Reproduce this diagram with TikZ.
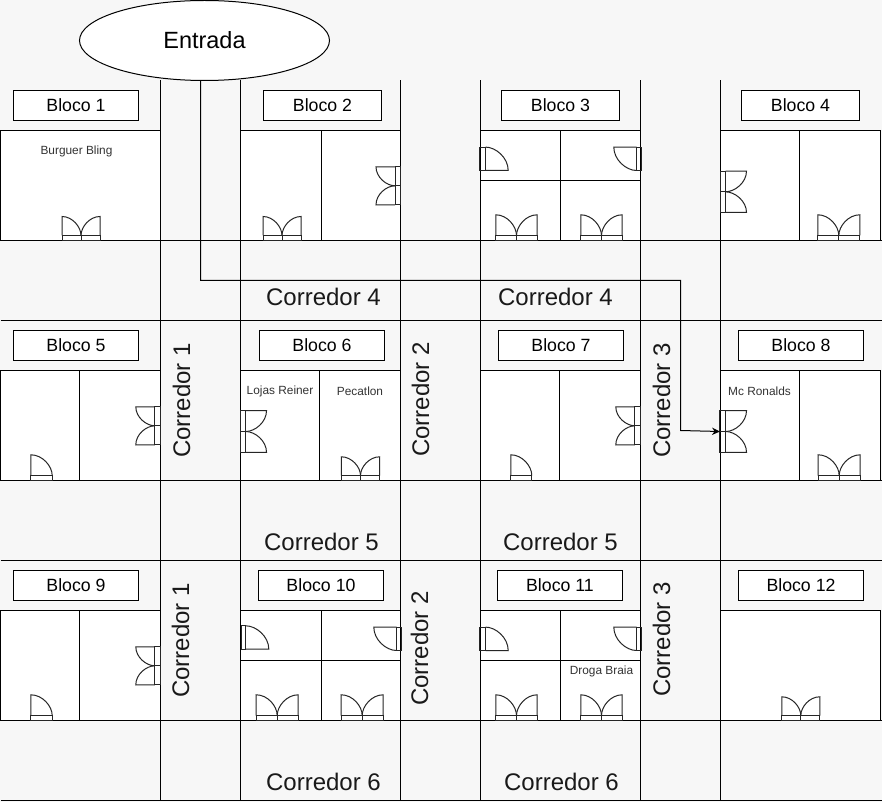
\documentclass[tikz,border=0pt]{standalone}
\usepackage{fontspec}
\setmainfont{Liberation Sans}
\usetikzlibrary{shapes.geometric,arrows.meta}
\definecolor{bgc}{HTML}{F7F7F7}
\definecolor{ink}{HTML}{000000}
\definecolor{smallc}{HTML}{333333}
\tikzset{
  wall/.style={draw=ink,line width=0.75pt},
  room/.style={draw=ink,fill=white,line width=0.75pt},
  doorline/.style={draw=ink!85,line width=0.75pt},
  blockbox/.style={draw=ink,fill=white,line width=0.75pt,minimum height=22.5pt,inner sep=0pt,font=\fontsize{13.3}{15}\selectfont},
  corr/.style={font=\fontsize{18}{20}\selectfont,inner sep=0pt,text=ink!90},
  shoplabel/.style={font=\fontsize{8.9}{10}\selectfont,inner sep=0pt,text=smallc},
  route/.style={draw=ink,line width=0.75pt}
}
% double door: #1 x, #2 y (middle of the wall edge), #3 rotation, #4 half width, #5 depth, #6 sill
\newcommand{\ddoor}[6]{\begin{scope}[shift={(#1,#2)},rotate=#3]
  \draw[doorline] (-#4,0) rectangle (#4,-#6);
  \draw[doorline] (0,0) -- (0,-#6);
  \draw[doorline] (-#4,-#6) -- (-#4,-#5) .. controls ({-#4*0.45},-#5) and (0,{-#6-0.45*(#5-#6)}) .. (0,-#6);
  \draw[doorline] (#4,-#6) -- (#4,-#5) .. controls ({#4*0.45},-#5) and (0,{-#6-0.45*(#5-#6)}) .. (0,-#6);
\end{scope}}
% single door: same arguments, #7 = 1 leaf on local left, -1 leaf on local right
\newcommand{\sdoor}[7]{\begin{scope}[shift={(#1,#2)},rotate=#3,xscale=#7]
  \draw[doorline] (-#4,0) rectangle (#4,-#6);
  \draw[doorline] (-#4,-#6) -- (-#4,-#5) .. controls ({-#4+1.1*#4},-#5) and (#4,{-#6-0.45*(#5-#6)}) .. (#4,-#6);
\end{scope}}
\begin{document}
\begin{tikzpicture}[x=0.75pt,y=-0.75pt]
\useasboundingbox (-0.5,-0.5) rectangle (881.5,801.5);
\fill[bgc] (-0.5,-0.5) rectangle (881.5,801.5);
% corridor lines
\foreach \yy in {240,320,480,560,720,800} \draw[wall] (0,\yy) -- (881,\yy);
\foreach \xx in {160,240,400,480,640,720} \draw[wall] (\xx,80) -- (\xx,800);
% rooms
\foreach \xa/\xb in {0/160,240/400,480/640,720/880} {
  \draw[room] (\xa,130) rectangle (\xb,240);
  \draw[room] (\xa,370) rectangle (\xb,480);
  \draw[room] (\xa,610) rectangle (\xb,720);
}
% dividers
\draw[wall] (321,130) -- (321,240);
\draw[wall] (560,130) -- (560,240);
\draw[wall] (480,180) -- (640,180);
\draw[wall] (799,130) -- (799,240);
\draw[wall] (79,370) -- (79,480);
\draw[wall] (319,370) -- (319,480);
\draw[wall] (559,370) -- (559,480);
\draw[wall] (799,370) -- (799,480);
\draw[wall] (79,610) -- (79,720);
\draw[wall] (321,610) -- (321,720);
\draw[wall] (240,660) -- (400,660);
\draw[wall] (560,610) -- (560,720);
\draw[wall] (480,660) -- (640,660);
% doors, row 1
\ddoor{80.5}{240}{0}{19}{24}{5}
\ddoor{281.5}{240}{0}{19}{24}{5}
\ddoor{399.5}{185.3}{90}{19}{24}{5}
\sdoor{479.3}{158.3}{-90}{11.7}{28.4}{5.7}{-1}
\sdoor{641.3}{158.3}{90}{11.7}{28}{5.3}{-1}
\ddoor{516}{240}{0}{20.7}{25.7}{5}
\ddoor{601}{240}{0}{20.7}{25.7}{5}
\ddoor{719.5}{191.3}{-90}{20.7}{26.5}{5.5}
\ddoor{838.3}{240}{0}{21}{25.7}{5}
% doors, row 2
\sdoor{41}{480}{0}{10.7}{25.7}{5}{1}
\ddoor{159.7}{425.3}{90}{19}{24.4}{5.4}
\ddoor{240}{431}{-90}{20.8}{26}{5.3}
\ddoor{360}{480}{0}{19.2}{23.7}{5}
\sdoor{520.8}{480}{0}{10.5}{25.7}{5}{1}
\ddoor{639.7}{425.3}{90}{19}{24.4}{5.4}
\ddoor{719.3}{431}{-90}{20.8}{26.7}{6}
\ddoor{838.7}{480}{0}{21}{25.7}{5}
% doors, row 3
\sdoor{41}{720}{0}{10.7}{25.7}{5}{1}
\ddoor{159.7}{665.3}{90}{19}{24.4}{5.4}
\sdoor{240.7}{637}{-90}{11.7}{27.6}{4.6}{-1}
\sdoor{401.3}{638.3}{90}{11.7}{28}{5.3}{-1}
\ddoor{276.7}{720}{0}{21}{25.7}{5}
\ddoor{361.7}{720}{0}{21}{25.7}{5}
\sdoor{479.3}{638.3}{-90}{11.7}{28.4}{5.7}{-1}
\sdoor{641.3}{638.3}{90}{11.7}{28}{5.3}{-1}
\ddoor{516}{720}{0}{20.7}{25.7}{5}
\ddoor{601}{720}{0}{20.7}{25.7}{5}
\ddoor{800.3}{720}{0}{19}{23.7}{5}
% block labels
\node[blockbox,minimum width=93.75pt] (b1) at (75.5,105) {Bloco 1};
\node[blockbox,minimum width=88.5pt] (b2) at (322,105) {Bloco 2};
\node[blockbox,minimum width=88.5pt] (b3) at (560,105) {Bloco 3};
\node[blockbox,minimum width=88.5pt] (b4) at (800,105) {Bloco 4};
\node[blockbox,minimum width=93.75pt] (b5) at (75.5,345) {Bloco 5};
\node[blockbox,minimum width=93.75pt] (b6) at (321.5,345) {Bloco 6};
\node[blockbox,minimum width=93.75pt] (b7) at (560.5,345) {Bloco 7};
\node[blockbox,minimum width=93.75pt] (b8) at (800.5,345) {Bloco 8};
\node[blockbox,minimum width=93.75pt] (b9) at (75.5,585) {Bloco 9};
\node[blockbox,minimum width=93.75pt] (b10) at (320.5,585) {Bloco 10};
\node[blockbox,minimum width=93.75pt] (b11) at (559.5,585) {Bloco 11};
\node[blockbox,minimum width=93.75pt] (b12) at (800.5,585) {Bloco 12};
% shop labels
\node[shoplabel] (s1) at (76,151) {Burguer Bling};
\node[shoplabel] (s2) at (279.5,391) {Lojas Reiner};
\node[shoplabel] (s3) at (359.5,391) {Pecatlon};
\node[shoplabel] (s4) at (759,391) {Mc Ronalds};
\node[shoplabel] (s5) at (601,671) {Droga Braia};
% corridor labels
\node[corr] (c41) at (323,296) {Corredor 4};
\node[corr] (c42) at (555,296) {Corredor 4};
\node[corr] (c51) at (321,541) {Corredor 5};
\node[corr] (c52) at (560,541) {Corredor 5};
\node[corr] (c61) at (323,781) {Corredor 6};
\node[corr] (c62) at (561,781) {Corredor 6};
\node[corr,rotate=90] (c11) at (181,400) {Corredor 1};
\node[corr,rotate=90] (c12) at (180,640) {Corredor 1};
\node[corr,rotate=90] (c21) at (420,399) {Corredor 2};
\node[corr,rotate=90] (c22) at (419,648) {Corredor 2};
\node[corr,rotate=90] (c31) at (661,400) {Corredor 3};
\node[corr,rotate=90] (c32) at (661,639) {Corredor 3};
% entrance and route
\node[draw=ink,fill=white,line width=0.75pt,ellipse,minimum width=187.5pt,minimum height=60pt,inner sep=0pt,font=\fontsize{17.6}{20}\selectfont] (entrada) at (204,40) {Entrada};
\coordinate (t1) at (200,280);
\coordinate (t2) at (680,280);
\coordinate (t3) at (680,430);
\coordinate (dest) at (719.5,431);
\draw[route,-{Stealth[length=6pt,width=5.5pt]}] (entrada.south -| t1) -- (t1) -- (t2) -- (t3) -- (dest);
\end{tikzpicture}
\end{document}
